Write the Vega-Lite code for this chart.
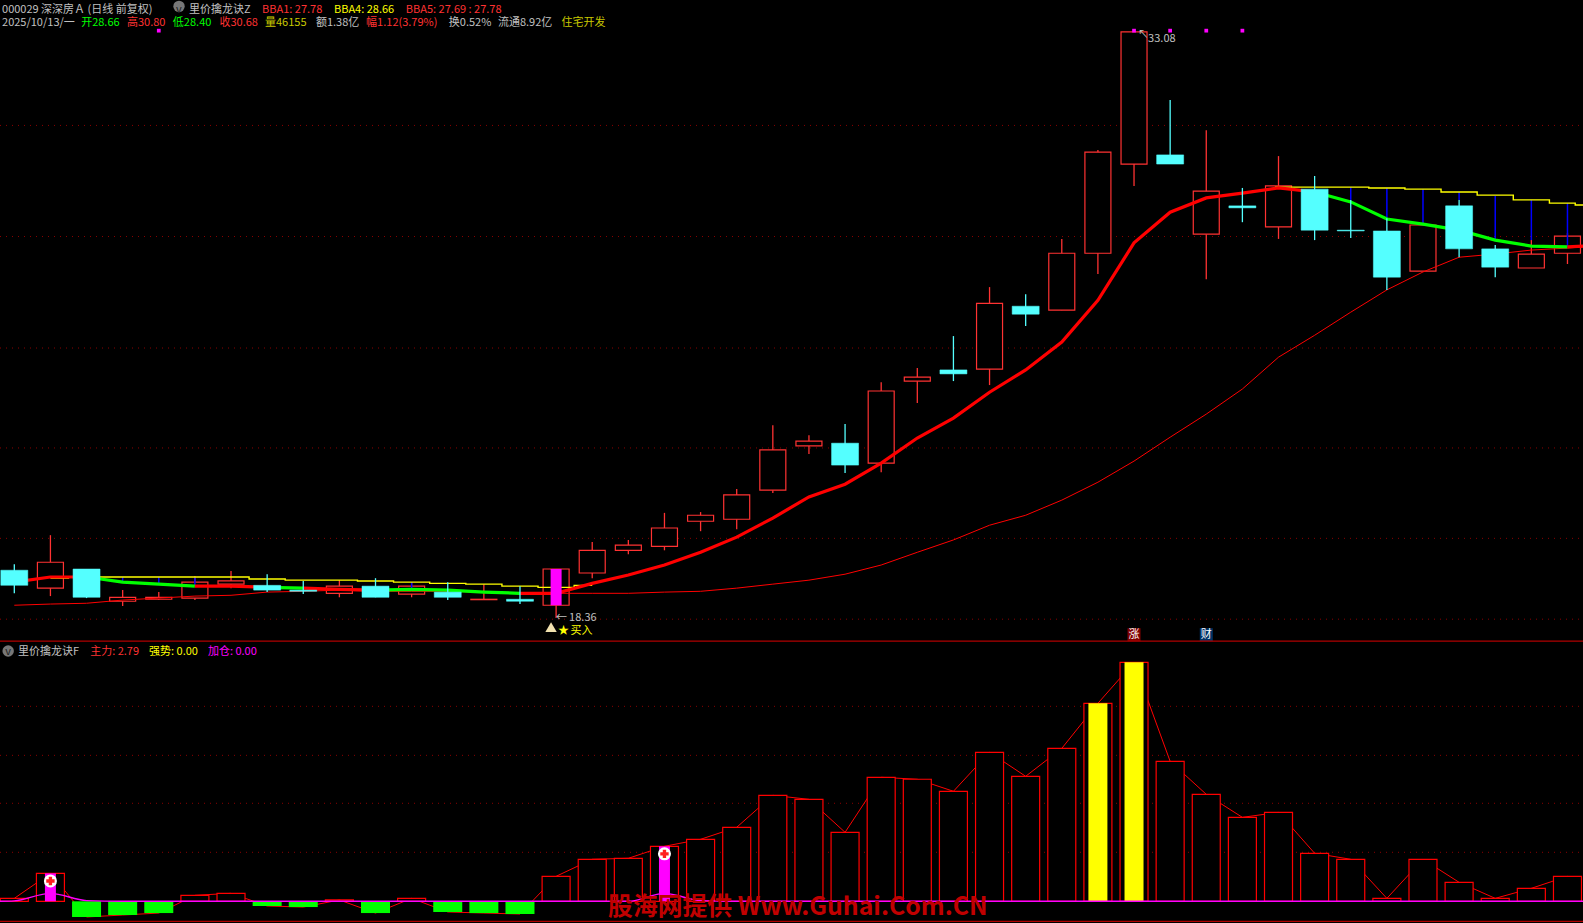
{"$schema":"https://vega.github.io/schema/vega-lite/v6.json","background":"#000000","padding":0,"autosize":{"type":"none"},"width":1583,"height":923,"resolve":{"scale":{"color":"independent","y":"independent"}},"config":{"view":{"stroke":null},"axis":{"disable":true},"text":{"font":"Noto Sans CJK SC"}},"datasets":{"candles":[{"i":0,"kind":"down","high":19.71,"top":19.56,"bottom":19.18,"low":18.98},{"i":1,"kind":"up","high":20.44,"top":19.76,"bottom":19.11,"low":18.91},{"i":2,"kind":"down","high":19.59,"top":19.59,"bottom":18.88,"low":18.86},{"i":3,"kind":"up","high":19.06,"top":18.88,"bottom":18.78,"low":18.66},{"i":4,"kind":"up","high":19.01,"top":18.88,"bottom":18.83,"low":18.81},{"i":5,"kind":"up","high":19.41,"top":19.26,"bottom":18.86,"low":18.81},{"i":6,"kind":"up","high":19.54,"top":19.29,"bottom":19.21,"low":19.11},{"i":7,"kind":"down","high":19.46,"top":19.18,"bottom":19.06,"low":19.01},{"i":8,"kind":"down","high":19.29,"top":19.06,"bottom":19.03,"low":18.96},{"i":9,"kind":"up","high":19.31,"top":19.16,"bottom":18.98,"low":18.88},{"i":10,"kind":"down","high":19.36,"top":19.16,"bottom":18.88,"low":18.88},{"i":11,"kind":"up","high":19.26,"top":19.16,"bottom":18.96,"low":18.88},{"i":12,"kind":"down","high":19.26,"top":19.01,"bottom":18.88,"low":18.81},{"i":13,"kind":"up","high":19.21,"top":18.83,"bottom":18.82,"low":18.81},{"i":14,"kind":"down","high":19.16,"top":18.83,"bottom":18.78,"low":18.71},{"i":15,"kind":"up","high":19.59,"top":19.59,"bottom":18.68,"low":18.36},{"i":16,"kind":"up","high":20.27,"top":20.06,"bottom":19.49,"low":19.36},{"i":17,"kind":"up","high":20.32,"top":20.19,"bottom":20.06,"low":19.96},{"i":18,"kind":"up","high":21.0,"top":20.62,"bottom":20.16,"low":20.06},{"i":19,"kind":"up","high":21.02,"top":20.94,"bottom":20.79,"low":20.54},{"i":20,"kind":"up","high":21.6,"top":21.45,"bottom":20.84,"low":20.59},{"i":21,"kind":"up","high":23.2,"top":22.58,"bottom":21.57,"low":21.5},{"i":22,"kind":"up","high":22.95,"top":22.8,"bottom":22.68,"low":22.48},{"i":23,"kind":"down","high":23.23,"top":22.75,"bottom":22.2,"low":22.0},{"i":24,"kind":"up","high":24.28,"top":24.06,"bottom":22.25,"low":22.02},{"i":25,"kind":"up","high":24.64,"top":24.41,"bottom":24.31,"low":23.76},{"i":26,"kind":"down","high":25.44,"top":24.59,"bottom":24.49,"low":24.31},{"i":27,"kind":"up","high":26.67,"top":26.26,"bottom":24.61,"low":24.21},{"i":28,"kind":"down","high":26.49,"top":26.19,"bottom":25.99,"low":25.69},{"i":29,"kind":"up","high":27.88,"top":27.52,"bottom":26.09,"low":26.09},{"i":30,"kind":"up","high":30.11,"top":30.06,"bottom":27.52,"low":27.0},{"i":31,"kind":"up","high":33.08,"top":33.08,"bottom":29.76,"low":29.21},{"i":32,"kind":"down","high":31.37,"top":29.99,"bottom":29.76,"low":29.76},{"i":33,"kind":"up","high":30.61,"top":29.08,"bottom":28.0,"low":26.87},{"i":34,"kind":"down","high":29.16,"top":28.71,"bottom":28.66,"low":28.3},{"i":35,"kind":"up","high":29.96,"top":29.21,"bottom":28.18,"low":27.88},{"i":36,"kind":"down","high":29.46,"top":29.13,"bottom":28.1,"low":27.85},{"i":37,"kind":"down","high":28.86,"top":28.1,"bottom":28.08,"low":27.9},{"i":38,"kind":"down","high":28.4,"top":28.08,"bottom":26.92,"low":26.6},{"i":39,"kind":"up","high":28.23,"top":28.23,"bottom":27.07,"low":27.07},{"i":40,"kind":"down","high":28.86,"top":28.71,"bottom":27.63,"low":27.42},{"i":41,"kind":"down","high":27.73,"top":27.63,"bottom":27.17,"low":26.92},{"i":42,"kind":"up","high":27.85,"top":27.5,"bottom":27.15,"low":27.15},{"i":43,"kind":"up","high":28.03,"top":27.95,"bottom":27.52,"low":27.25}],"thick":[{"i":0,"v":19.26,"seg":"A","trend":"up"},{"i":1,"v":19.39,"seg":"A","trend":"up"},{"i":2,"v":19.39,"seg":"A","trend":"up"},{"i":2,"v":19.39,"seg":"B","trend":"down"},{"i":3,"v":19.26,"seg":"B","trend":"down"},{"i":4,"v":19.21,"seg":"B","trend":"down"},{"i":5,"v":19.16,"seg":"B","trend":"down"},{"i":5,"v":19.16,"seg":"C","trend":"up"},{"i":6,"v":19.16,"seg":"C","trend":"up"},{"i":7,"v":19.13,"seg":"C","trend":"up"},{"i":7,"v":19.13,"seg":"D","trend":"down"},{"i":8,"v":19.11,"seg":"D","trend":"down"},{"i":8,"v":19.11,"seg":"E","trend":"up"},{"i":9,"v":19.08,"seg":"E","trend":"up"},{"i":10,"v":19.06,"seg":"E","trend":"up"},{"i":10,"v":19.06,"seg":"F","trend":"down"},{"i":11,"v":19.08,"seg":"F","trend":"down"},{"i":12,"v":19.06,"seg":"F","trend":"down"},{"i":13,"v":19.01,"seg":"F","trend":"down"},{"i":14,"v":18.98,"seg":"F","trend":"down"},{"i":14,"v":18.98,"seg":"G","trend":"up"},{"i":15,"v":18.98,"seg":"G","trend":"up"},{"i":16,"v":19.23,"seg":"G","trend":"up"},{"i":17,"v":19.44,"seg":"G","trend":"up"},{"i":18,"v":19.69,"seg":"G","trend":"up"},{"i":19,"v":20.01,"seg":"G","trend":"up"},{"i":20,"v":20.39,"seg":"G","trend":"up"},{"i":21,"v":20.87,"seg":"G","trend":"up"},{"i":22,"v":21.4,"seg":"G","trend":"up"},{"i":23,"v":21.72,"seg":"G","trend":"up"},{"i":24,"v":22.25,"seg":"G","trend":"up"},{"i":25,"v":22.88,"seg":"G","trend":"up"},{"i":26,"v":23.38,"seg":"G","trend":"up"},{"i":27,"v":24.03,"seg":"G","trend":"up"},{"i":28,"v":24.59,"seg":"G","trend":"up"},{"i":29,"v":25.29,"seg":"G","trend":"up"},{"i":30,"v":26.34,"seg":"G","trend":"up"},{"i":31,"v":27.78,"seg":"G","trend":"up"},{"i":32,"v":28.55,"seg":"G","trend":"up"},{"i":33,"v":28.91,"seg":"G","trend":"up"},{"i":34,"v":29.03,"seg":"G","trend":"up"},{"i":35,"v":29.16,"seg":"G","trend":"up"},{"i":36,"v":29.06,"seg":"G","trend":"up"},{"i":36,"v":29.06,"seg":"H","trend":"down"},{"i":37,"v":28.81,"seg":"H","trend":"down"},{"i":38,"v":28.38,"seg":"H","trend":"down"},{"i":39,"v":28.25,"seg":"H","trend":"down"},{"i":40,"v":28.1,"seg":"H","trend":"down"},{"i":41,"v":27.85,"seg":"H","trend":"down"},{"i":42,"v":27.7,"seg":"H","trend":"down"},{"i":43,"v":27.68,"seg":"H","trend":"down"},{"i":43,"v":27.68,"seg":"I","trend":"up"},{"i":43.43,"v":27.7,"seg":"I","trend":"up"}],"yellow":[{"i":1,"v":19.36,"seg":"L"},{"i":2,"v":19.39,"seg":"L"},{"i":3,"v":19.39,"seg":"L"},{"i":4,"v":19.39,"seg":"L"},{"i":5,"v":19.39,"seg":"L"},{"i":6,"v":19.39,"seg":"L"},{"i":7,"v":19.34,"seg":"L"},{"i":8,"v":19.31,"seg":"L"},{"i":9,"v":19.31,"seg":"L"},{"i":10,"v":19.29,"seg":"L"},{"i":11,"v":19.26,"seg":"L"},{"i":12,"v":19.23,"seg":"L"},{"i":13,"v":19.21,"seg":"L"},{"i":14,"v":19.16,"seg":"L"},{"i":15,"v":19.13,"seg":"L"},{"i":16,"v":19.18,"seg":"L"},{"i":34.9,"v":29.18,"seg":"R"},{"i":36,"v":29.18,"seg":"R"},{"i":37,"v":29.18,"seg":"R"},{"i":38,"v":29.16,"seg":"R"},{"i":39,"v":29.13,"seg":"R"},{"i":40,"v":29.06,"seg":"R"},{"i":41,"v":28.98,"seg":"R"},{"i":42,"v":28.86,"seg":"R"},{"i":43,"v":28.78,"seg":"R"},{"i":43.43,"v":28.73,"seg":"R"}],"thin":[{"i":0,"v":18.68},{"i":1,"v":18.71},{"i":2,"v":18.73},{"i":3,"v":18.81},{"i":4,"v":18.86},{"i":5,"v":18.91},{"i":6,"v":18.93},{"i":7,"v":19.01},{"i":8,"v":19.03},{"i":9,"v":19.06},{"i":10,"v":19.03},{"i":11,"v":19.03},{"i":12,"v":19.03},{"i":13,"v":19.01},{"i":14,"v":18.98},{"i":15,"v":18.98},{"i":16,"v":18.98},{"i":17,"v":18.98},{"i":18,"v":19.01},{"i":19,"v":19.03},{"i":20,"v":19.11},{"i":21,"v":19.21},{"i":22,"v":19.31},{"i":23,"v":19.46},{"i":24,"v":19.69},{"i":25,"v":20.01},{"i":26,"v":20.32},{"i":27,"v":20.69},{"i":28,"v":20.94},{"i":29,"v":21.32},{"i":30,"v":21.77},{"i":31,"v":22.3},{"i":32,"v":22.9},{"i":33,"v":23.48},{"i":34,"v":24.11},{"i":35,"v":24.91},{"i":36,"v":25.46},{"i":37,"v":26.04},{"i":38,"v":26.6},{"i":39,"v":27.05},{"i":40,"v":27.42},{"i":41,"v":27.5},{"i":42,"v":27.6},{"i":43,"v":27.65},{"i":43.43,"v":27.68}],"blue":[{"i":3,"a":19.39,"b":19.26},{"i":4,"a":19.39,"b":19.21},{"i":5,"a":19.39,"b":19.16},{"i":11,"a":19.26,"b":19.08},{"i":37,"a":29.18,"b":28.86},{"i":38,"a":29.16,"b":28.4},{"i":39,"a":29.13,"b":28.23},{"i":40,"a":29.06,"b":28.86},{"i":41,"a":28.96,"b":27.85},{"i":42,"a":28.86,"b":27.85},{"i":43,"a":28.78,"b":27.68}],"gridUpper":[{"v":30.73,"i":-0.396,"i2":43.43},{"v":27.94,"i":-0.396,"i2":43.43},{"v":25.14,"i":-0.396,"i2":43.43},{"v":22.63,"i":-0.396,"i2":43.43},{"v":20.36,"i":-0.396,"i2":43.43},{"v":18.33,"i":-0.396,"i2":43.43}],"gridLower":[{"v":21.76,"i":-0.396,"i2":43.43},{"v":16.29,"i":-0.396,"i2":43.43},{"v":10.94,"i":-0.396,"i2":43.43},{"v":5.47,"i":-0.396,"i2":43.43}],"dots":[{"i":4,"v":33.11},{"i":31,"v":33.11},{"i":32,"v":33.11},{"i":33,"v":33.11},{"i":34,"v":33.11}],"headerUpper":[{"i":-0.34,"v":33.64,"t":"000029 深深房Ａ (日线 前复权)","tone":"gray"},{"i":4.48,"v":33.64,"t":"v","tone":"dark"},{"i":4.84,"v":33.64,"t":"里价擒龙诀Z","tone":"gray"},{"i":6.86,"v":33.64,"t":"BBA1: 27.78","tone":"red"},{"i":8.85,"v":33.64,"t":"BBA4: 28.66","tone":"yellow"},{"i":10.84,"v":33.64,"t":"BBA5: 27.69 : 27.78","tone":"red"},{"i":-0.34,"v":33.3,"t":"2025/10/13/一","tone":"gray"},{"i":1.85,"v":33.3,"t":"开28.66","tone":"green"},{"i":3.12,"v":33.3,"t":"高30.80","tone":"red"},{"i":4.39,"v":33.3,"t":"低28.40","tone":"green"},{"i":5.68,"v":33.3,"t":"收30.68","tone":"red"},{"i":6.94,"v":33.3,"t":"量46155","tone":"olive"},{"i":8.35,"v":33.3,"t":"额1.38亿","tone":"gray"},{"i":9.74,"v":33.3,"t":"幅1.12(3.79%)","tone":"red"},{"i":12.03,"v":33.3,"t":"换0.52%","tone":"gray"},{"i":13.39,"v":33.3,"t":"流通8.92亿","tone":"gray"},{"i":15.15,"v":33.3,"t":"住宅开发","tone":"olive"},{"i":31.1,"v":33.0,"t":"↖","tone":"gray"},{"i":31.39,"v":32.9,"t":"33.08","tone":"gray"},{"i":15.0,"v":18.36,"t":"←","tone":"gray"},{"i":15.36,"v":18.36,"t":"18.36","tone":"gray"},{"i":15.4,"v":18.03,"t":"买入","tone":"yellow"},{"i":15.05,"v":18.03,"t":"★","tone":"yellow"}],"markers":[{"i":4.56,"v":33.72,"kind":"menu"},{"i":14.86,"v":18.13,"kind":"bag"}],"badges":[{"i":31,"v":17.94,"t":"涨","kind":"rise"},{"i":33,"v":17.94,"t":"财","kind":"wealth"}],"vol":[{"i":0,"v":0.33,"kind":"hollow"},{"i":1,"v":3.12,"kind":"hollow"},{"i":2,"v":-1.75,"kind":"green"},{"i":3,"v":-1.53,"kind":"green"},{"i":4,"v":-1.31,"kind":"green"},{"i":5,"v":0.67,"kind":"hollow"},{"i":6,"v":0.89,"kind":"hollow"},{"i":7,"v":-0.52,"kind":"green"},{"i":8,"v":-0.64,"kind":"green"},{"i":9,"v":0.15,"kind":"hollow"},{"i":10,"v":-1.31,"kind":"green"},{"i":11,"v":0.33,"kind":"hollow"},{"i":12,"v":-1.19,"kind":"green"},{"i":13,"v":-1.31,"kind":"green"},{"i":14,"v":-1.42,"kind":"green"},{"i":15,"v":2.79,"kind":"hollow"},{"i":16,"v":4.69,"kind":"hollow"},{"i":17,"v":4.8,"kind":"hollow"},{"i":18,"v":6.14,"kind":"hollow"},{"i":19,"v":6.92,"kind":"hollow"},{"i":20,"v":8.26,"kind":"hollow"},{"i":21,"v":11.83,"kind":"hollow"},{"i":22,"v":11.38,"kind":"hollow"},{"i":23,"v":7.7,"kind":"hollow"},{"i":24,"v":13.84,"kind":"hollow"},{"i":25,"v":13.62,"kind":"hollow"},{"i":26,"v":12.28,"kind":"hollow"},{"i":27,"v":16.63,"kind":"hollow"},{"i":28,"v":13.95,"kind":"hollow"},{"i":29,"v":17.07,"kind":"hollow"},{"i":30,"v":22.1,"kind":"hollow"},{"i":31,"v":26.67,"kind":"hollow"},{"i":32,"v":15.62,"kind":"hollow"},{"i":33,"v":11.94,"kind":"hollow"},{"i":34,"v":9.37,"kind":"hollow"},{"i":35,"v":9.93,"kind":"hollow"},{"i":36,"v":5.36,"kind":"hollow"},{"i":37,"v":4.69,"kind":"hollow"},{"i":38,"v":0.33,"kind":"hollow"},{"i":39,"v":4.69,"kind":"hollow"},{"i":40,"v":2.12,"kind":"hollow"},{"i":41,"v":0.33,"kind":"hollow"},{"i":42,"v":1.45,"kind":"hollow"},{"i":43,"v":2.79,"kind":"hollow"}],"strong":[{"i":30,"v":22.1},{"i":31,"v":26.67}],"add":[{"i":1,"v":3.12,"mark":2.27},{"i":18,"v":6.14,"mark":5.3}],"addLine":[{"i":-0.396,"v":0},{"i":0,"v":0.05},{"i":1,"v":0.89},{"i":2,"v":0.08},{"i":3,"v":0},{"i":17,"v":0},{"i":18,"v":0.89},{"i":19,"v":0.08},{"i":20,"v":0},{"i":43.43,"v":0}],"headerLower":[{"i":-0.252,"v":27.77,"t":"v","tone":"dark"},{"i":0.1,"v":27.77,"t":"里价擒龙诀F","tone":"gray"},{"i":2.1,"v":27.77,"t":"主力: 2.79","tone":"red"},{"i":3.73,"v":27.77,"t":"强势: 0.00","tone":"yellow"},{"i":5.36,"v":27.77,"t":"加仓: 0.00","tone":"magenta"}],"menuLower":[{"i":-0.17,"v":27.93}],"watermark":[{"i":16.44,"v":-0.75,"t":"股海网提供 Www.Guhai.Com.CN"}],"borderUpper":[{"v":17.78,"i":-0.396,"i2":43.43}],"borderLower":[{"v":-2.24,"i":-0.396,"i2":43.43}]},"encoding":{"x":{"field":"i","type":"quantitative","scale":{"domain":[-0.396,43.43],"nice":false,"zero":false,"padding":0}}},"layer":[{"resolve":{"scale":{"color":"independent"}},"layer":[{"data":{"name":"gridUpper"},"mark":{"type":"rule","color":"#8a0000","strokeWidth":1,"strokeDash":[1,5]},"encoding":{"x2":{"field":"i2"},"y":{"field":"v","type":"quantitative","scale":{"domain":[17.757,33.88],"range":[642,0],"nice":false,"zero":false}}}},{"data":{"name":"candles"},"transform":[{"filter":"datum.kind == 'up'"}],"mark":{"type":"rule","color":"#ff3232","strokeWidth":1.3},"encoding":{"y":{"field":"high","type":"quantitative"},"y2":{"field":"low"}}},{"data":{"name":"candles"},"transform":[{"filter":"datum.kind == 'up'"}],"mark":{"type":"bar","orient":"vertical","size":26,"fill":"#000000","stroke":"#ff3232","strokeWidth":1.2},"encoding":{"y":{"field":"top","type":"quantitative"},"y2":{"field":"bottom"}}},{"data":{"name":"blue"},"mark":{"type":"rule","color":"#0000ff","strokeWidth":1.5},"encoding":{"y":{"field":"a","type":"quantitative"},"y2":{"field":"b"}}},{"data":{"name":"thin"},"mark":{"type":"line","color":"#ff0000","strokeWidth":1},"encoding":{"y":{"field":"v","type":"quantitative"}}},{"data":{"name":"yellow"},"mark":{"type":"line","color":"#ffff00","strokeWidth":1.4,"interpolate":"step"},"encoding":{"y":{"field":"v","type":"quantitative"},"detail":{"field":"seg"}}},{"data":{"name":"thick"},"mark":{"type":"line","strokeWidth":3.2},"encoding":{"y":{"field":"v","type":"quantitative"},"detail":{"field":"seg"},"color":{"field":"trend","type":"nominal","scale":{"domain":["up","down"],"range":["#ff0000","#00ff00"]},"legend":null}}},{"data":{"name":"candles"},"transform":[{"filter":"datum.kind == 'down'"}],"mark":{"type":"rule","color":"#54ffff","strokeWidth":1.3},"encoding":{"y":{"field":"high","type":"quantitative"},"y2":{"field":"low"}}},{"data":{"name":"candles"},"transform":[{"filter":"datum.kind == 'down'"}],"mark":{"type":"bar","orient":"vertical","size":27,"fill":"#54ffff","stroke":"#54ffff","strokeWidth":0.5},"encoding":{"y":{"field":"top","type":"quantitative"},"y2":{"field":"bottom"}}},{"data":{"name":"candles"},"transform":[{"filter":"datum.i == 15"}],"mark":{"type":"bar","orient":"vertical","size":11,"fill":"#ff00ff"},"encoding":{"y":{"field":"top","type":"quantitative"},"y2":{"field":"bottom"}}},{"data":{"name":"dots"},"mark":{"type":"square","filled":true,"size":14,"color":"#ff00ff","opacity":1},"encoding":{"y":{"field":"v","type":"quantitative"}}},{"data":{"name":"markers"},"transform":[{"filter":"datum.kind == 'menu'"}],"mark":{"type":"circle","size":130,"color":"#777777","opacity":1},"encoding":{"y":{"field":"v","type":"quantitative"}}},{"data":{"name":"markers"},"transform":[{"filter":"datum.kind == 'bag'"}],"mark":{"type":"point","shape":"triangle-up","filled":true,"size":130,"color":"#f2e2b0","opacity":1},"encoding":{"y":{"field":"v","type":"quantitative"}}},{"data":{"name":"headerUpper"},"mark":{"type":"text","align":"left","baseline":"middle","fontSize":11},"encoding":{"y":{"field":"v","type":"quantitative"},"text":{"field":"t"},"color":{"field":"tone","type":"nominal","scale":{"domain":["gray","red","yellow","green","olive","dark"],"range":["#c0c0c0","#ff3232","#ffff00","#00ff00","#c8c800","#202020"]},"legend":null}}},{"data":{"name":"badges"},"mark":{"type":"square","filled":true,"size":169,"opacity":1},"encoding":{"y":{"field":"v","type":"quantitative"},"color":{"field":"kind","type":"nominal","scale":{"domain":["rise","wealth"],"range":["#800000","#003366"]},"legend":null}}},{"data":{"name":"badges"},"mark":{"type":"text","align":"center","baseline":"middle","fontSize":11,"color":"#ffffff"},"encoding":{"y":{"field":"v","type":"quantitative"},"text":{"field":"t"}}},{"data":{"name":"borderUpper"},"mark":{"type":"rule","color":"#b00000","strokeWidth":1.2},"encoding":{"x2":{"field":"i2"},"y":{"field":"v","type":"quantitative"}}}]},{"layer":[{"data":{"name":"gridLower"},"mark":{"type":"rule","color":"#8a0000","strokeWidth":1,"strokeDash":[1,5]},"encoding":{"x2":{"field":"i2"},"y":{"field":"v","type":"quantitative","scale":{"domain":[-2.42,28.94],"range":[923,642],"nice":false,"zero":false}}}},{"data":{"name":"vol"},"mark":{"type":"line","color":"#ff0000","strokeWidth":1},"encoding":{"y":{"field":"v","type":"quantitative"}}},{"data":{"name":"vol"},"transform":[{"filter":"datum.kind == 'hollow'"}],"mark":{"type":"bar","orient":"vertical","size":28,"fill":"#000000","stroke":"#ff0000","strokeWidth":1.2},"encoding":{"y":{"field":"v","type":"quantitative"},"y2":{"datum":0}}},{"data":{"name":"strong"},"mark":{"type":"bar","orient":"vertical","size":19,"fill":"#ffff00"},"encoding":{"y":{"field":"v","type":"quantitative"},"y2":{"datum":0}}},{"data":{"name":"add"},"mark":{"type":"bar","orient":"vertical","size":11,"fill":"#ff00ff"},"encoding":{"y":{"field":"v","type":"quantitative"},"y2":{"datum":0}}},{"data":{"name":"vol"},"transform":[{"filter":"datum.kind == 'green'"}],"mark":{"type":"bar","orient":"vertical","size":29,"fill":"#00ff00"},"encoding":{"y":{"field":"v","type":"quantitative"},"y2":{"datum":0}}},{"data":{"name":"addLine"},"mark":{"type":"line","color":"#ff00ff","strokeWidth":1.4,"interpolate":"monotone"},"encoding":{"y":{"field":"v","type":"quantitative"}}},{"data":{"name":"add"},"mark":{"type":"circle","size":170,"color":"#ffffff","opacity":1},"encoding":{"y":{"field":"mark","type":"quantitative"}}},{"data":{"name":"add"},"mark":{"type":"point","shape":"cross","filled":true,"size":70,"color":"#ff2020","opacity":1},"encoding":{"y":{"field":"mark","type":"quantitative"}}},{"data":{"name":"watermark"},"mark":{"type":"text","align":"left","baseline":"middle","fontSize":24.8,"fontWeight":"bold","color":"#c00000"},"encoding":{"y":{"field":"v","type":"quantitative"},"text":{"field":"t"}}},{"data":{"name":"menuLower"},"mark":{"type":"circle","size":130,"color":"#777777","opacity":1},"encoding":{"y":{"field":"v","type":"quantitative"}}},{"data":{"name":"headerLower"},"mark":{"type":"text","align":"left","baseline":"middle","fontSize":11,"fontWeight":"normal"},"encoding":{"y":{"field":"v","type":"quantitative"},"text":{"field":"t"},"color":{"field":"tone","type":"nominal","scale":{"domain":["gray","red","yellow","magenta","dark"],"range":["#c0c0c0","#ff3232","#ffff00","#ff00ff","#202020"]},"legend":null}}},{"data":{"name":"borderLower"},"mark":{"type":"rule","color":"#b00000","strokeWidth":1.2},"encoding":{"x2":{"field":"i2"},"y":{"field":"v","type":"quantitative"}}}]}]}
